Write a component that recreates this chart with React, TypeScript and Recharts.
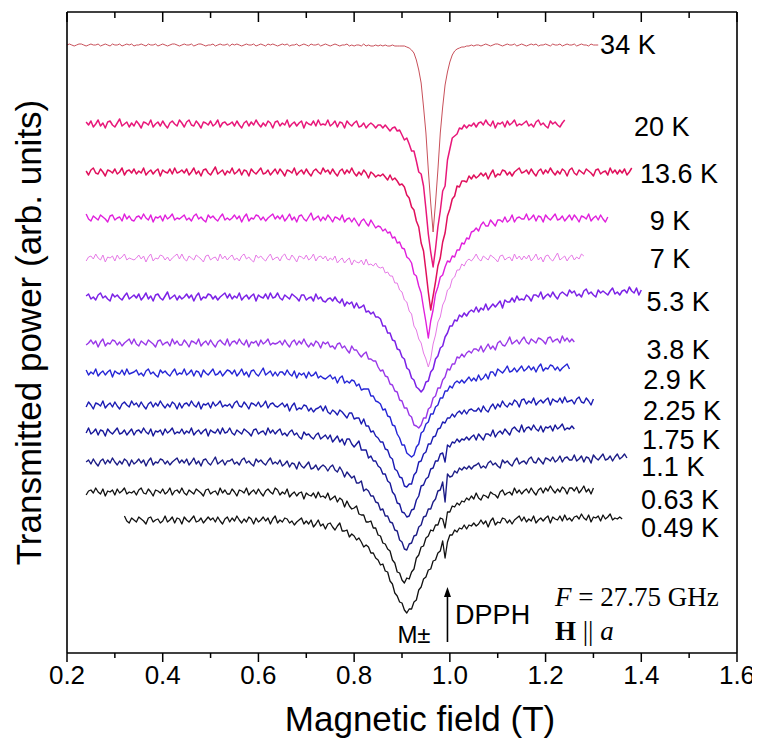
import React from 'react';
import { LineChart, Line, XAxis, YAxis, ReferenceDot, ReferenceLine } from 'recharts';

// Magnetic-field sampling grid (T): 0.200 ... 1.400, step 0.005
const fieldGrid = Array.from({ length: 241 }, (_, i) => Number((0.2 + i * 0.005).toFixed(3)));
const LEFT_END = 130; // index of 0.850 T
const MID_END = 170; // index of 1.050 T

const xTicks = [0.2, 0.3, 0.4, 0.5, 0.6, 0.7, 0.8, 0.9, 1.0, 1.1, 1.2, 1.3, 1.4, 1.5, 1.6];

const temperatures = ['34 K', '20 K', '13.6 K', '9 K', '7 K', '5.3 K', '3.8 K', '2.9 K', '2.25 K', '1.75 K', '1.1 K', '0.63 K', '0.49 K'];
const seriesKeys = ['k34', 'k20', 'k136', 'k9', 'k7', 'k53', 'k38', 'k29', 'k225', 'k175', 'k11', 'k063', 'k049'];
const baselines = [608, 529, 481, 435, 395, 356, 310, 280, 248, 221, 191, 161, 133];
const colors = ['#c8505a', '#e8187a', '#e0105c', '#e020dc', '#e67ae6', '#7c22e6', '#9a38e8', '#2626d6', '#1c1cb4', '#18189a', '#1c1c86', '#111111', '#111111'];
const strokeWidths = [1, 1.5, 1.5, 1.4, 1, 1.5, 1.4, 1.4, 1.4, 1.4, 1.4, 1.3, 1.3];
const labelField = [1.372, 1.443, 1.479, 1.46, 1.46, 1.477, 1.477, 1.47, 1.485, 1.483, 1.466, 1.481, 1.481];
const labelLevel = [608, 526, 479, 432, 394, 351, 303, 273, 242, 213, 186, 153, 125];

// ---- signals relative to each trace's baseline (arb. units) ----
// left part ends at 0.850 T, mid part 0.855-1.050 T, right part starts at 1.055 T

const k34Left = [
  0, 1, 0, -1, 0, 1, 1, 0, -1, 0, 1, 0, 0, 1, -1, 0, 1, 0, -1, 1,
  0, 0, 1, -1, 0, 1, 0, 1, -1, 0, 0, 1, 0, -1, 1, 0, 0, 1, -1, 0,
  1, 0, -1, 0, 1, 1, 0, -1, 0, 1, 0, 0, 1, -1, 0, 1, 1, 0, -1, 0,
  0, 1, -1, 0, 1, 0, 0, 1, -1, 1, 0, 1, 0, -1, 0, 1, 0, 0, 1, -1,
  0, 1, 0, -1, 1, 0, 1, 0, -1, 0, 1, 0, 1, -1, 0, 0, 1, -1, 0, 1,
  0, -1, 1, 0, 0, 1, -1, 0, 1, 0, -1, 0, 1, 0, -1, 0, 0, 1, -1, 0,
  -1, 0, 0, -1, 1, -1, 0, -1, -1, 0, -1,
];
const k34Mid = [
  0, -1, 0, -1, -1, 0, -1, -1, -1, -1,
  -1, -2, -3, -5, -8, -15, -25, -38, -62, -88,
  -125, -158, -187, -158, -125, -88, -62, -40, -27, -17,
  -10, -6, -4, -3, -2, -2, -1, -1, 0, -1,
];
const k34Right = [
  0, 0, -1, 0, 1, 0, -1, 0, 1, 1, 0, -1, 0, 1, 0, 0, 1, -1, 0, 1,
  0, -1, 0, 1, 0, 1, -1, 0, 0, 1, 0, -1, 1, 0, 0, 1, -1, 0, 1, 0,
  0, 1, -1, 0, 1, 0, 0, -1, 1, 0, 0, 0,
];

const k20Left = [
  2, -1, 3, -3, 0, 4, -2, 1, -4, 2, 3, -1, -3, 1, 5, -2, 0, 2, -3, 1,
  -2, 3, 0, -4, 2, 1, -1, 4, -3, 0, 2, -2, 3, -1, -4, 1, 3, 0, -2, 4,
  1, -3, 2, 4, -1, -2, 3, 0, -4, 2, 1, -1, 3, -2, 0, 4, -3, 1, 2, -1,
  0, 2, -2, 3, -1, -4, 1, 3, -2, 2, -1, 4, 0, -3, 1, -2, 3, 1, -4, 2,
  3, -2, 1, -1, 4, -3, 0, 2, -2, 1, 3, -4, 2, 0, -1, 3, -2, 4, -1, 0,
  -1, 4, -2, 0, 3, -3, 2, 1, -4, 3, 0, -2, 1, 3, -3, -2, 1, -4, -1, 1,
  -1, -4, -1,
];
const k20Mid = [
  -1, -4, -1, -4, -7, -4, -3, -7, -6, -11,
  -16, -14, -20, -27, -27, -37, -48, -50, -62, -85,
  -110, -128, -143, -125, -103, -87, -67, -62, -36, -25,
  -14, -12, -10, -4, -5, -1, -4, -1, -2, 1,
];
const k20Right = [
  -3, 1, 2, -1, 4, 0, -2, 3, -4, 1, 0, 2, -3, 3, -1, 1, 4, -2, 0, -1,
  1, 3, -2, 0, -3, 2, 4, -1, 1, -2, -4, 3, 0, 2, -1, -3, 1, 4,
];

const k136Left = [
  1, -3, 2, 4, -1, -2, 3, 0, -4, 2, 1, -1, 3, -2, 0, 4, -3, 1, 2, -1,
  3, -2, 1, -1, 4, -3, 0, 2, -2, 1, 3, -4, 2, 0, -1, 3, -2, 4, -1, 0,
  2, -1, 3, -3, 0, 4, -2, 1, -4, 2, 3, -1, -3, 1, 5, -2, 0, 2, -3, 1,
  -1, 4, -2, 0, 3, -3, 2, 1, -4, 3, 0, -2, 1, 4, -2, -1, 2, -3, 0, 3,
  -2, 3, 0, -4, 2, 1, -1, 4, -3, 0, 2, -2, 3, -1, -4, 1, 3, 0, -2, 4,
  0, 2, -2, 3, -1, -4, 1, 3, -2, 2, -1, 4, -1, -4, 0, -3, 2, -1, -6, 0,
  -2, -5, -3,
];
const k136Mid = [
  -4, -2, -5, -8, -3, -8, -6, -9, -13, -12,
  -15, -23, -26, -35, -38, -49, -55, -71, -79, -99,
  -120, -138, -124, -110, -94, -86, -70, -61, -44, -37,
  -27, -24, -14, -15, -9, -9, -10, -4, -7, -3,
];
const k136Right = [
  -6, -4, -1, -4, -1, -7, -2, 2, -5, -2, -3, 2, 1, -3, 0, -4, 0, 2, 4, -1,
  0, 2, -2, 3, -1, -4, 1, 3, -2, 2, -1, 4, 0, -3, 1, -2, 3, 1, -4, 2,
  4, -1, -3, 2, 0, -2, 3, 1, -1, -4, 2, 3, -2, 0, 1, -3, 4, -1, 2, -2,
  2, -1, 3, -3, 0, 4,
];

const k9Left = [
  4, -1, -3, 2, 0, -2, 3, 1, -1, -4, 2, 3, -2, 0, 1, -3, 4, -1, 2, -2,
  -3, 1, 2, -1, 4, 0, -2, 3, -4, 1, 0, 2, -3, 3, -1, 1, 4, -2, 0, -1,
  1, 3, -2, 0, -3, 2, 4, -1, 1, -2, -4, 3, 0, 2, -1, -3, 1, 4, -2, 0,
  -2, 0, 3, -1, 2, -4, 1, 4, -3, 0, -1, 3, 2, -2, 1, -3, 0, 2, 4, -1,
  2, -1, 3, -3, 0, 4, -2, 1, -4, 2, 3, -1, -3, 1, 5, -2, 0, 2, -3, 1,
  -2, 3, 0, -4, 1, 0, -2, 3, -4, -1, 0, -4, 0, -4, -8, -3, -1, -5, -8, -2,
  -6, -10, -8,
];
const k9Mid = [
  -9, -13, -11, -15, -14, -20, -19, -25, -24, -30,
  -31, -39, -41, -45, -56, -58, -68, -75, -90, -104,
  -120, -103, -92, -76, -69, -59, -57, -49, -43, -44,
  -38, -39, -32, -32, -25, -26, -20, -21, -14, -13,
];
const k9Right = [
  -10, -13, -7, -4, -8, -8, -2, -5, -8, -2, -2, -4, 1, -4, -2, 3, -4, 0, 1, -1,
  -1, 4, -2, 0, 3, -3, 2, 1, -4, 3, 0, -2, 1, 4, -2, -1, 2, -3, 0, 3,
  -2, 3, 0, -4, 2, 1, -1, 4, -3, 0, 2, -2, 3, -1, -4, 1,
];

const k7Left = [
  -3, 1, 2, -1, 4, 0, -2, 3, -4, 1, 0, 2, -3, 3, -1, 1, 4, -2, 0, -1,
  -2, 0, 3, -1, 2, -4, 1, 4, -3, 0, -1, 3, 2, -2, 1, -3, 0, 2, 4, -1,
  4, -1, -3, 2, 0, -2, 3, 1, -1, -4, 2, 3, -2, 0, 1, -3, 4, -1, 2, -2,
  1, 3, -2, 0, -3, 2, 4, -1, 1, -2, -4, 3, 0, 2, -1, -3, 1, 4, -2, 0,
  1, -3, 2, 4, -1, -2, 3, 0, -4, 2, 1, -1, 3, -2, 0, 4, -3, 1, 2, -1,
  2, -3, 0, -2, 2, -5, -2, 0, -5, -2, 0, -7, -2, -4, -5, -2, -7, -1, -7, -6,
  -8, -5, -9,
];
const k7Mid = [
  -10, -9, -15, -14, -18, -18, -25, -25, -32, -34,
  -42, -44, -53, -56, -68, -72, -81, -85, -95, -101,
  -109, -101, -86, -77, -64, -59, -47, -42, -32, -30,
  -21, -19, -12, -12, -6, -8, -3, -1, -3, 0,
];
const k7Right = [
  4, -1, -3, 2, 0, -2, 3, 1, -1, -4, 2, 3, -2, 0, 1, -3, 4, -1, 2, -2,
  2, -1, 3, -3, 0, 4, -2, 1, -4, 2, 3, -1, -3, 1, 5, -2, 0, 2, -3, 1,
  3, -2, 1, -1, 4, 2,
];

const k53Left = [
  1, 3, -2, 0, -3, 2, 4, -1, 1, -2, -4, 3, 0, 2, -1, -3, 1, 4, -2, 0,
  2, -1, 3, -3, 0, 4, -2, 1, -4, 2, 3, -1, -3, 1, 5, -2, 0, 2, -3, 1,
  -2, 0, 3, -1, 2, -4, 1, 4, -3, 0, -1, 3, 2, -2, 1, -3, 0, 2, 4, -1,
  3, -2, 1, -1, 4, -3, 0, 2, -2, 1, 3, -4, 2, 0, -1, 3, -2, 4, -1, 0,
  4, -1, -3, 2, 0, -2, 3, 1, -1, -4, 2, 2, -3, -1, 0, -4, 3, -2, 0, -4,
  -5, -2, -1, -4, 0, -4, -6, -2, -9, -5, -7, -5, -11, -6, -11, -10, -8, -15, -14, -17,
  -15, -20, -20,
];
const k53Mid = [
  -22, -29, -29, -36, -36, -43, -44, -52, -53, -60,
  -62, -71, -73, -81, -83, -90, -92, -95, -92, -85,
  -84, -75, -72, -62, -59, -51, -49, -40, -36, -29,
  -29, -23, -24, -18, -20, -16, -19, -15, -13, -15,
];
const k53Right = [
  -10, -15, -11, -13, -7, -13, -10, -7, -10, -7, -4, -11, -3, -5, -5, -1, -5, 1, -3, -2,
  -3, 2, 0, -4, 2, 2, 0, 5, -2, 1, 3, 0, 5, 1, -2, 3, 5, 3, 1, 7,
  4, 6, 1, 3, 0, 6, 8, 3, 5, 2, 0, 7, 4, 6, 4, 2, 6, 9, 3, 5,
  2, 6, 7, 4, 10, 6, 4, 9, 2, 7,
];

const k38Left = [
  -2, 0, 3, -1, 2, -4, 1, 4, -3, 0, -1, 3, 2, -2, 1, -3, 0, 2, 4, -1,
  4, -1, -3, 2, 0, -2, 3, 1, -1, -4, 2, 3, -2, 0, 1, -3, 4, -1, 2, -2,
  -2, 3, 0, -4, 2, 1, -1, 4, -3, 0, 2, -2, 3, -1, -4, 1, 3, 0, -2, 4,
  -3, 1, 2, -1, 4, 0, -2, 3, -4, 1, 0, 2, -3, 3, -1, 1, 4, -2, 0, -1,
  0, 2, -2, 3, -1, -4, 1, 3, -2, 2, -1, 4, -1, -4, 0, -3, 2, 0, -5, 1,
  -1, 1, -4, -3, -6, -1, 0, -5, -3, -7, -10, -3, -7, -7, -11, -14, -11, -9, -16, -16,
  -18, -18, -24,
];
const k38Mid = [
  -28, -27, -33, -34, -41, -42, -48, -49, -57, -58,
  -65, -65, -72, -74, -82, -83, -85, -82, -75, -75,
  -66, -64, -55, -53, -45, -45, -37, -34, -26, -27,
  -21, -21, -14, -15, -11, -14, -10, -8, -10, -6,
];
const k38Right = [
  -6, -8, -3, -9, -5, -1, -6, -3, -7, 0, 2, -2, -3, 1, 6, -1, 1, 3, -1, 3,
  6, 1, -1, 4, 2, 0, 5, 4, 2, -1, 5, 6, 1, 3, 4, 0, 7, 2, 5, 1,
  4, 1,
];

const k29Left = [
  3, -2, 1, -1, 4, -3, 0, 2, -2, 1, 3, -4, 2, 0, -1, 3, -2, 4, -1, 0,
  1, 3, -2, 0, -3, 2, 4, -1, 1, -2, -4, 3, 0, 2, -1, -3, 1, 4, -2, 0,
  -1, 4, -2, 0, 3, -3, 2, 1, -4, 3, 0, -2, 1, 4, -2, -1, 2, -3, 0, 3,
  2, -1, 3, -3, 0, 4, -2, 1, -4, 2, 3, -1, -3, 1, 5, -2, 0, 2, -3, 1,
  -3, 1, 1, -2, 3, -1, -3, 2, -5, 0, -2, 0, -5, 1, -3, -2, 1, -5, -3, -5,
  -6, -4, -2, -6, -4, -10, -5, -3, -10, -8, -10, -7, -8, -13, -11, -17, -16, -16, -16, -23,
  -23, -28, -29,
];
const k29Mid = [
  -31, -37, -36, -43, -44, -52, -53, -61, -65, -72,
  -72, -80, -82, -84, -82, -74, -71, -60, -58, -51,
  -49, -41, -41, -34, -32, -25, -25, -18, -18, -13,
  -15, -10, -8, -10, -7, -10, -7, -4, -8, -5,
];
const k29Right = [
  -8, -2, -7, -5, -1, -6, 1, 1, -3, 4, 2, 0, 3, 7, 1, 2, 5, 1, 4, 7,
  2, 4, 7, 3, 6, 1, 6, 9, 2, 5, 4, 8, 7, 3, 6, 2, 5, 7, 9, 4,
];

const k225Left = [
  -2, 3, 0, -4, 2, 1, -1, 4, -3, 0, 2, -2, 3, -1, -4, 1, 3, 0, -2, 4,
  0, 2, -2, 3, -1, -4, 1, 3, -2, 2, -1, 4, 0, -3, 1, -2, 3, 1, -4, 2,
  -3, 1, 2, -1, 4, 0, -2, 3, -4, 1, 0, 2, -3, 3, -1, 1, 4, -2, 0, -1,
  1, -3, 2, 4, -1, -2, 3, 0, -4, 2, 1, -1, 3, -2, 0, 4, -3, 1, 2, -1,
  -2, 0, 2, -2, 1, -6, -1, 2, -5, -3, -4, 0, -1, -6, -3, -7, -4, -3, -1, -6,
  -1, -7, -9, -5, -7, -10, -5, -7, -10, -13, -8, -8, -14, -13, -13, -19, -14, -21, -21, -27,
  -26, -31, -33,
];
const k225Mid = [
  -37, -37, -44, -45, -52, -54, -64, -66, -72, -73,
  -81, -82, -79, -79, -70, -67, -57, -56, -49, -47,
  -39, -39, -32, -31, -24, -23, -17, -18, -13, -13,
  -9, -12, -8, -6, -9, -5, -9, -5, -4, -6,
];
const k225Right = [
  -6, -3, -7, -1, -5, -7, -2, 1, -4, 1, -2, 4, 0, -2, 2, 0, 5, 3, -2, 5,
  6, 1, 4, 2, 7, 0, 3, 5, 2, 5, 7, 0, 6, 4, 3, 7, 2, 8, 3, 4,
  5, 1, 6, 8, 3, 2, 7, 4, 0, 6,
];

const k175Left = [
  -1, 4, -2, 0, 3, -3, 2, 1, -4, 3, 0, -2, 1, 4, -2, -1, 2, -3, 0, 3,
  -3, 1, 2, -1, 4, 0, -2, 3, -4, 1, 0, 2, -3, 3, -1, 1, 4, -2, 0, -1,
  3, -2, 1, -1, 4, -3, 0, 2, -2, 1, 3, -4, 2, 0, -1, 3, -2, 4, -1, 0,
  4, -1, -3, 2, 0, -2, 3, 1, -1, -4, 2, 3, -2, 0, 1, -3, 4, -1, 2, -2,
  1, 3, -3, -1, -4, 0, 2, -3, -1, -5, -7, 0, -3, -2, -5, -7, -3, -1, -7, -5,
  -3, -7, -3, -10, -7, -4, -10, -7, -13, -7, -7, -12, -15, -12, -9, -18, -18, -18, -26, -24,
  -29, -29, -34,
];
const k175Mid = [
  -36, -42, -42, -49, -51, -60, -63, -71, -72, -80,
  -81, -85, -84, -78, -77, -68, -64, -54, -53, -47,
  -45, -37, -36, -29, -29, -22, -21, -30, -13, -15,
  -10, -11, -7, -10, -7, -8, -5, -8, -5, -3,
];
const k175Right = [
  -8, -2, -5, -8, -2, -2, -4, 2, -5, -1, 1, -2, 3, 0, -3, 3, 5, 2, 0, 7,
  0, 4, 5, 2, 7, 3, 1, 6, 0, 5, 4, 6, 1, 7, 3, 5, 8, 2, 4, 3,
  6, 3,
];

const k11Left = [
  0, 2, -2, 3, -1, -4, 1, 3, -2, 2, -1, 4, 0, -3, 1, -2, 3, 1, -4, 2,
  -2, 0, 3, -1, 2, -4, 1, 4, -3, 0, -1, 3, 2, -2, 1, -3, 0, 2, 4, -1,
  2, -1, 3, -3, 0, 4, -2, 1, -4, 2, 3, -1, -3, 1, 5, -2, 0, 2, -3, 1,
  1, 3, -2, 0, -3, 2, 4, -1, 1, -2, -4, 3, 0, 2, -1, -3, 1, 4, -2, 0,
  -2, 2, -4, -2, 1, -5, -1, -2, -7, 0, -4, -6, -3, 0, -7, -6, -3, -8, -5, -3,
  -5, -9, -5, -3, -8, -10, -5, -9, -15, -10, -13, -16, -14, -21, -21, -19, -29, -27, -29, -34,
  -34, -40, -41,
];
const k11Mid = [
  -48, -47, -54, -54, -60, -61, -68, -69, -78, -80,
  -87, -88, -82, -81, -74, -73, -65, -63, -55, -54,
  -47, -47, -40, -37, -29, -28, -20, -40, -12, -15,
  -14, -9, -11, -6, -8, -5, -7, -4, -7, -4,
];
const k11Right = [
  -3, -1, -6, -4, -6, -1, 1, -3, -1, -4, -6, 2, -1, 1, -2, -4, 1, 4, -2, 0,
  1, -2, 3, 5, 0, -1, 4, 1, -2, 4, 3, 1, 5, 0, 2, 6, 0, 4, 5, 2,
  2, 7, 1, 3, 6, 0, 5, 4, -1, 7, 4, 2, 5, 8, 2, 3, 6, 1, 5, 8,
  3, 5, 8, 4,
];

const k063Left = [
  -3, 1, 2, -1, 4, 0, -2, 3, -4, 1, 0, 2, -3, 3, -1, 1, 4, -2, 0, -1,
  1, -3, 2, 4, -1, -2, 3, 0, -4, 2, 1, -1, 3, -2, 0, 4, -3, 1, 2, -1,
  4, -1, -3, 2, 0, -2, 3, 1, -1, -4, 2, 3, -2, 0, 1, -3, 4, -1, 2, -2,
  -2, 3, 0, -4, 2, 1, -1, 4, -3, 0, 2, -2, 3, -1, -4, 1, 3, 0, -2, 4,
  2, -3, 0, -2, 3, -5, -2, 0, -4, -1, 0, -7, -1, -3, -4, -1, -6, 0, -5, -4,
  -6, -1, -8, -6, -4, -10, -6, -8, -15, -9, -14, -17, -16, -14, -22, -23, -23, -30, -30, -29,
  -36, -36, -43,
];
const k063Mid = [
  -44, -51, -52, -57, -59, -68, -71, -80, -81, -88,
  -91, -86, -87, -80, -77, -66, -63, -55, -54, -46,
  -44, -38, -39, -33, -33, -26, -27, -36, -20, -20,
  -14, -15, -11, -13, -9, -10, -6, -8, -4, -7,
];
const k063Right = [
  -1, -6, -8, -3, -4, -6, 0, -2, -3, -6, 0, 2, -3, -1, 0, -3, 4, -1, 2, -2,
  1, 3, -1, 4, 0, -3, 2, 4, -1, 4, 1, 6, 2, -1, 3, 0, 5, 3, -2, 4,
  4, 1, 5, -1, 2, 6, 0, 3, -2, 4,
];

const k049Left = [
  4, -1, -3, 2, 0, -2, 3, 1, -1, -4, 2, 3, -2, 0, 1, -3,
  -1, 4, -2, 0, 3, -3, 2, 1, -4, 3, 0, -2, 1, 4, -2, -1, 2, -3, 0, 3,
  0, 2, -2, 3, -1, -4, 1, 3, -2, 2, -1, 4, 0, -3, 1, -2, 3, 1, -4, 2,
  -2, 0, 3, -1, 2, -4, 1, 4, -3, 0, -2, 2, 1, -3, -1, -5, -2, 0, 2, -4,
  -1, -4, 0, -7, -4, 0, -6, -4, -9, -4, -3, -7, -10, -6, -3, -11, -11, -10, -17, -14,
  -16, -20, -18, -22, -27, -25, -27, -33, -33, -38, -40,
];
const k049Mid = [
  -45, -44, -51, -52, -61, -64, -73, -76, -82, -83,
  -90, -93, -89, -89, -82, -80, -70, -67, -59, -57,
  -50, -49, -41, -40, -33, -31, -21, -38, -22, -15,
  -15, -10, -12, -8, -9, -5, -9, -5, -6, -3,
];
const k049Right = [
  -6, -4, 0, -4, -1, -7, -1, 2, -5, -2, -3, 2, 1, -3, 0, -4, 0, 2, 4, -1,
  3, -2, 1, -1, 4, -3, 0, 2, -1, 2, 4, -3, 3, 1, 0, 4, -1, 5, 0, 2,
  -1, 3, 4, 1, 6, 2, 0, 5, -2, 3, 2, 4, -1, 5, 1, 3, 6, 0, 2, 1,
  3, 1,
];

const seriesLeft = [k34Left, k20Left, k136Left, k9Left, k7Left, k53Left, k38Left, k29Left, k225Left, k175Left, k11Left, k063Left, k049Left];
const seriesMid = [k34Mid, k20Mid, k136Mid, k9Mid, k7Mid, k53Mid, k38Mid, k29Mid, k225Mid, k175Mid, k11Mid, k063Mid, k049Mid];
const seriesRight = [k34Right, k20Right, k136Right, k9Right, k7Right, k53Right, k38Right, k29Right, k225Right, k175Right, k11Right, k063Right, k049Right];

const rows = fieldGrid.map((f, i) => {
  const row: Record<string, number | null> = { field: f };
  seriesKeys.forEach((key, k) => {
    const L = seriesLeft[k];
    const M = seriesMid[k];
    const R = seriesRight[k];
    let v: number | undefined;
    if (i <= LEFT_END) {
      const j = i - (LEFT_END + 1 - L.length);
      if (j >= 0) v = L[j];
    } else if (i <= MID_END) {
      v = M[i - LEFT_END - 1];
    } else {
      const j = i - MID_END - 1;
      if (j < R.length) v = R[j];
    }
    row[key] = v === undefined ? null : baselines[k] + v;
  });
  return row;
});

const SANS = '"Liberation Sans", Arial, Helvetica, sans-serif';
const SERIF = '"Liberation Serif", "Times New Roman", serif';

const BottomTick = (props: any) => {
  const { x, y, payload } = props;
  const v = payload.value as number;
  const major = Math.round(v * 10) % 2 === 0;
  return (
    <g>
      <line x1={x} y1={y} x2={x} y2={y + (major ? 9 : 5)} stroke="#000" strokeWidth={1.5} />
      {major && (
        <text x={x} y={y + 22} textAnchor="middle" dominantBaseline="central" fontSize={26} fill="#000" fontFamily={SANS}>
          {v.toFixed(1)}
        </text>
      )}
    </g>
  );
};

const TopTick = (props: any) => {
  const { x, y, payload } = props;
  const v = payload.value as number;
  const major = Math.round(v * 10) % 2 === 0;
  return <line x1={x} y1={y} x2={x} y2={y + (major ? 10 : 6)} stroke="#000" strokeWidth={1.5} />;
};

const axisStroke = { stroke: '#000', strokeWidth: 1.6 };

export default function App() {
  const order = seriesKeys.map((_, k) => k).reverse();
  return (
    <div style={{ width: 752, height: 736, fontFamily: SANS }}>
      <LineChart width={752} height={736} data={rows} margin={{ top: 3, right: 22, bottom: 31, left: 58 }}>
        <XAxis
          dataKey="field"
          type="number"
          domain={[0.2, 1.6]}
          ticks={xTicks}
          interval={0}
          allowDataOverflow
          height={60}
          tickSize={0}
          tickMargin={0}
          tickLine={false}
          axisLine={axisStroke}
          tick={(p: any) => <BottomTick {...p} />}
          label={(p: any) => {
            const vb = p.viewBox || {};
            return (
              <text x={vb.x + vb.width / 2 + 18} y={vb.y + 65} textAnchor="middle" dominantBaseline="central" fontSize={35} fill="#000" fontFamily={SANS}>
                Magnetic field (T)
              </text>
            );
          }}
        />
        <XAxis
          xAxisId="top"
          orientation="top"
          dataKey="field"
          type="number"
          domain={[0.2, 1.6]}
          ticks={xTicks}
          interval={0}
          allowDataOverflow
          height={1}
          tickSize={0}
          tickMargin={0}
          tickLine={false}
          axisLine={axisStroke}
          tick={(p: any) => <TopTick {...p} />}
        />
        <YAxis
          type="number"
          domain={[0, 641]}
          allowDataOverflow
          width={1}
          tick={false}
          tickLine={false}
          axisLine={axisStroke}
          label={(p: any) => {
            const vb = p.viewBox || {};
            const cx = vb.x - 38;
            const cy = vb.y + vb.height / 2;
            return (
              <text x={cx} y={cy} transform={`rotate(-90 ${cx} ${cy})`} textAnchor="middle" dominantBaseline="central" fontSize={35} fill="#000" fontFamily={SANS}>
                Transmitted power (arb. units)
              </text>
            );
          }}
        />
        <YAxis
          yAxisId="right"
          orientation="right"
          type="number"
          domain={[0, 641]}
          width={1}
          tick={false}
          tickLine={false}
          axisLine={axisStroke}
        />
        {order.map((k) => (
          <Line
            key={seriesKeys[k]}
            dataKey={seriesKeys[k]}
            type="linear"
            stroke={colors[k]}
            strokeWidth={strokeWidths[k]}
            strokeLinejoin="round"
            dot={false}
            activeDot={false}
            connectNulls={false}
            isAnimationActive={false}
          />
        ))}
        {temperatures.map((t, k) => (
          <ReferenceDot
            key={'lab' + k}
            x={labelField[k]}
            y={labelLevel[k]}
            r={0}
            ifOverflow="visible"
            shape={(p: any) => (
              <text x={p.cx} y={p.cy} textAnchor="middle" dominantBaseline="central" fontSize={27} fill="#000" fontFamily={SANS}>
                {t}
              </text>
            )}
          />
        ))}
        <ReferenceLine
          segment={[{ x: 0.995, y: 11 }, { x: 0.995, y: 58 }]}
          stroke="#000"
          strokeWidth={1.6}
          ifOverflow="visible"
        />
        <ReferenceDot
          x={0.995}
          y={66}
          r={0}
          ifOverflow="visible"
          shape={(p: any) => <path d={`M${p.cx},${p.cy} L${p.cx - 3.5},${p.cy + 10} L${p.cx + 3.5},${p.cy + 10} Z`} fill="#000" />}
        />
        <ReferenceDot
          x={0.925}
          y={19}
          r={0}
          ifOverflow="visible"
          shape={(p: any) => (
            <text x={p.cx} y={p.cy} textAnchor="middle" dominantBaseline="central" fontSize={24} fill="#000" fontFamily={SANS}>
              M±
            </text>
          )}
        />
        <ReferenceDot
          x={1.011}
          y={38}
          r={0}
          ifOverflow="visible"
          shape={(p: any) => (
            <text x={p.cx} y={p.cy} textAnchor="start" dominantBaseline="central" fontSize={27} fill="#000" fontFamily={SANS}>
              DPPH
            </text>
          )}
        />
        <ReferenceDot
          x={1.2196}
          y={56}
          r={0}
          ifOverflow="visible"
          shape={(p: any) => (
            <text x={p.cx} y={p.cy} textAnchor="start" dominantBaseline="central" fontSize={27} fill="#000" fontFamily={SERIF}>
              <tspan fontStyle="italic">F</tspan>
              <tspan> = 27.75 GHz</tspan>
            </text>
          )}
        />
        <ReferenceDot
          x={1.2196}
          y={22}
          r={0}
          ifOverflow="visible"
          shape={(p: any) => (
            <text x={p.cx} y={p.cy} textAnchor="start" dominantBaseline="central" fontSize={27} fill="#000" fontFamily={SERIF}>
              <tspan fontWeight="bold">H</tspan>
              <tspan> || </tspan>
              <tspan fontStyle="italic">a</tspan>
            </text>
          )}
        />
      </LineChart>
    </div>
  );
}
